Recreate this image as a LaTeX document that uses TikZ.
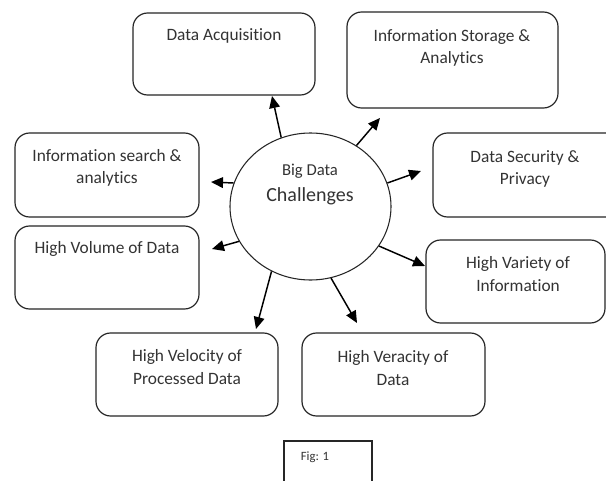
\documentclass[tikz,border=0pt]{standalone}
\usepackage{fontspec}
\setmainfont{Carlito}[Ligatures=NoCommon]
\usetikzlibrary{arrows.meta,shapes.geometric}

\tikzset{
  px/.style 2 args={minimum width=#1*0.75pt, minimum height=#2*0.75pt},
  card/.style={draw=black!85, line width=0.9pt, rounded corners=11pt, inner sep=0pt, fill=white},
  caption/.style={text=black!80, font=\fontsize{13}{17}\selectfont, align=center, inner sep=0pt},
  hub/.style={draw=black!85, line width=0.8pt, ellipse, inner sep=0pt},
  arr/.style={line width=1.1pt, -{Triangle[length=9pt, width=8pt]}},
}

\begin{document}
\begin{tikzpicture}[x=0.75pt, y=-0.75pt]
  \clip (0,0) rectangle (606,481);
  \fill[white] (0,0) rectangle (606,481);

  % central ellipse
  \node[hub, px={161}{147}] (c) at (310.5,206.5) {};
  \node[text=black!80, font=\fontsize{12.5}{16}\selectfont, inner sep=0pt] (t1) at (310,171) {Big Data};
  \node[text=black!80, font=\fontsize{15}{18}\selectfont, inner sep=0pt] (t2) at (310,196) {Challenges};

  % surrounding boxes
  \node[card, px={182}{82}] (acq) at (224,54) {};
  \node[card, px={211}{96}] (store) at (452.5,60) {};
  \node[card, px={187}{84}] (sec) at (526.5,175) {};
  \node[card, px={179}{83}] (var) at (515.5,281.5) {};
  \node[card, px={183}{83}] (verac) at (393.5,374.5) {};
  \node[card, px={182}{83}] (veloc) at (187,374.5) {};
  \node[card, px={184}{83}] (vol) at (107,267.5) {};
  \node[card, px={184}{84}] (search) at (107,175) {};

  % box texts
  \node[caption] (acqT) at (224,36) {Data Acquisition};
  \node[caption] (storeT) at (452,48) {Information Storage \&\\Analytics};
  \node[caption] (secT) at (525,169) {Data Security \&\\Privacy};
  \node[caption] (varT) at (518,274) {High Variety of\\Information};
  \node[caption] (veracT) at (393,368) {High Veracity of\\Data};
  \node[caption] (velocT) at (187,367) {High Velocity of\\Processed Data};
  \node[caption] (volT) at (107,249) {High Volume of Data};
  \node[caption] (searchT) at (107,168) {Information search \&\\analytics};

  % arrow tips
  \coordinate (pAcq) at (272,96);
  \coordinate (pStore) at (380,118);
  \coordinate (pSec) at (421,171);
  \coordinate (pVar) at (425,266);
  \coordinate (pVerac) at (357,323);
  \coordinate (pVeloc) at (256,329);
  \coordinate (pVol) at (212,249);
  \coordinate (pSearch) at (211,182);

  \draw[arr] (c.113.6) -- (pAcq);
  \draw[arr] (c.53.8) -- (pStore);
  \draw[arr] (c.17.6) -- (pSec);
  \draw[arr] (c.-30.7) -- (pVar);
  \draw[arr] (c.-74.4) -- (pVerac);
  \draw[arr] (c.-121.8) -- (pVeloc);
  \draw[arr] (c.-154.6) -- (pVol);
  \draw[arr] (c.163) -- (pSearch);

  % figure tag
  \node[draw=black!85, line width=0.8pt, px={88}{60}, inner sep=0pt] (fig) at (328,471) {};
  \node[text=black!80, font=\fontsize{9.5}{11}\selectfont, inner sep=0pt] (figT) at (315,457) {Fig: 1};
\end{tikzpicture}
\end{document}
